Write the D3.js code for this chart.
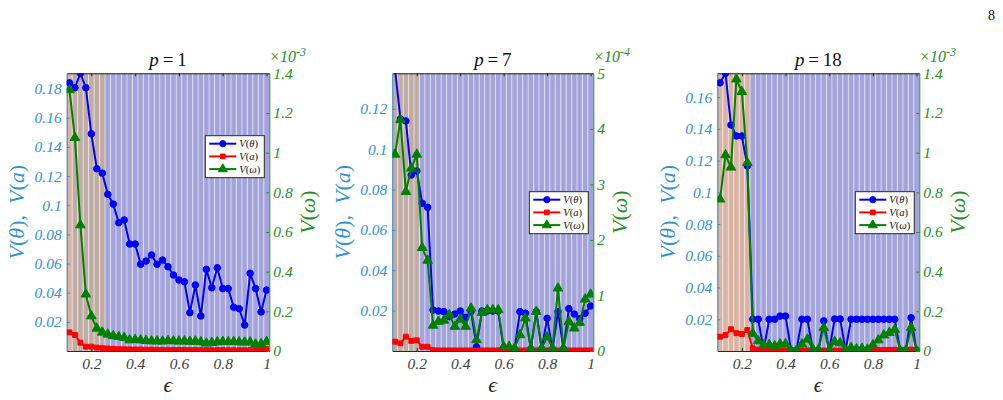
<!DOCTYPE html>
<html>
<head>
<meta charset="utf-8">
<script src="https://cdn.jsdelivr.net/npm/d3@7"></script>
<style>
body { margin: 0; background: #fff; }
svg text { font-family: "Liberation Serif", "Times New Roman", serif; }
</style>
</head>
<body>
<svg id="fig" width="1003" height="400"></svg>
<script>
// coupling strength grid (x values)
const epsValues = [0.1, 0.125, 0.15, 0.175, 0.2, 0.225, 0.25, 0.275, 0.3, 0.325, 0.35, 0.375, 0.4,
    0.425, 0.45, 0.475, 0.5, 0.525, 0.55, 0.575, 0.6, 0.625, 0.65, 0.675, 0.7, 0.725, 0.75, 0.775,
    0.8, 0.825, 0.85, 0.875, 0.9, 0.925, 0.95, 0.975, 1.0];

// p = 1
const thetaP1 = [0.184, 0.1806, 0.1905, 0.1806, 0.149, 0.125, 0.122, 0.1075, 0.1008, 0.088, 0.0899, 0.0734, 0.0734,
    0.0595, 0.0617, 0.0659, 0.0595, 0.0624, 0.0578, 0.0521, 0.0487, 0.0475, 0.0263, 0.0453, 0.024, 0.056, 0.0434, 0.0571,
    0.0428, 0.0428, 0.03, 0.029, 0.0178, 0.0533, 0.0428, 0.0268, 0.0418];
const aP1 = [0.0128, 0.011, 0.0057, 0.003, 0.003, 0.0023, 0.002, 0.0017, 0.0015, 0.0013, 0.0012, 0.0011, 0.001,
    0.001, 0.0009, 0.0009, 0.0008, 0.0008, 0.0008, 0.0007, 0.0007, 0.0007, 0.0006, 0.0007, 0.0006, 0.0006, 0.0006, 0.0006,
    0.0006, 0.0005, 0.0005, 0.0005, 0.0005, 0.0006, 0.0008, 0.001, 0.0012];
const omegaP1 = [1.316, 1.075, 0.635, 0.286, 0.176, 0.114, 0.094, 0.084, 0.076, 0.072, 0.067, 0.055, 0.057,
    0.055, 0.052, 0.05, 0.05, 0.049, 0.052, 0.05, 0.049, 0.05, 0.048, 0.049, 0.046, 0.039, 0.042, 0.045,
    0.047, 0.046, 0.047, 0.045, 0.044, 0.045, 0.034, 0.036, 0.047]; // x 1e-3
const regimeP1 = ["S", "T", "T", "T", "T", "T", "T", "L", "L", "L", "L", "L", "L", "L", "L", "L", "L", "L", "L",
    "L", "L", "L", "L", "L", "L", "L", "L", "L", "L", "L", "L", "L", "L", "L", "L", "L", "L"];

// p = 7
const thetaP7 = [0.1395, 0.115, 0.114, 0.0872, 0.0892, 0.0732, 0.0712, 0.0203, 0.0198, 0.0195, 0.017, 0.0183, 0.0198,
    0.0167, 0.0195, 0.0021, 0.0198, 0.0198, 0.0198, 0.0198, 0.001, 0.001, 0.001, 0.0195, 0.0187, 0.001, 0.0195, 0.001,
    0.0162, 0.001, 0.0195, 0.001, 0.021, 0.0183, 0.016, 0.0187, 0.0223];
const aP7 = [0.0046, 0.0038, 0.0071, 0.005, 0.0053, 0.0021, 0.0021, 0.0004, 0.0003, 0.0003, 0.0003, 0.0003, 0.0003,
    0.0003, 0.0003, 0.0003, 0.0003, 0.0003, 0.0003, 0.0003, 0.0003, 0.0003, 0.0003, 0.0003, 0.0003, 0.0003, 0.0003, 0.0003,
    0.0003, 0.0003, 0.0003, 0.0003, 0.0003, 0.0003, 0.0003, 0.0003, 0.0003];
const omegaP7 = [3.54, 4.16, 2.87, 3.29, 3.54, 1.86, 1.63, 0.46, 0.53, 0.55, 0.65, 0.44, 0.57,
    0.44, 0.77, 0.2, 0.69, 0.74, 0.74, 0.74, 0.08, 0.08, 0.05, 0.29, 0.59, 0.05, 0.71, 0.05,
    0.25, 0.05, 1.13, 0.05, 0.53, 0.41, 0.51, 0.93, 1.02]; // x 1e-4
const regimeP7 = ["T", "T", "T", "T", "T", "L", "L", "L", "L", "L", "L", "L", "L", "L", "L", "L", "L", "L", "L",
    "L", "L", "L", "L", "L", "L", "L", "L", "L", "L", "L", "L", "L", "L", "L", "L", "L", "L"];

// p = 18
const thetaP18 = [0.169, 0.175, 0.1424, 0.1355, 0.1355, 0.1166, 0.02, 0.02, 0.0006, 0.02, 0.02, 0.022, 0.022,
    0.0005, 0.0005, 0.02, 0.02, 0.0005, 0.0003, 0.019, 0.0003, 0.0202, 0.0202, 0.0003, 0.02, 0.02, 0.02, 0.02,
    0.02, 0.02, 0.02, 0.02, 0.02, 0.0003, 0.0003, 0.021, 0.0003];
const aP18 = [0.009, 0.0101, 0.0137, 0.0112, 0.0107, 0.0132, 0.0017, 0.0008, 0.0006, 0.0005, 0.0005, 0.0005, 0.0004,
    0.0004, 0.0004, 0.0004, 0.0004, 0.0003, 0.0003, 0.0003, 0.0003, 0.0003, 0.0003, 0.0003, 0.0003, 0.0004, 0.0004, 0.0005,
    0.0005, 0.0006, 0.0006, 0.0007, 0.0008, 0.0008, 0.0006, 0.0009, 0.0006];
const omegaP18 = [0.765, 0.988, 0.926, 1.37, 1.307, 0.949, 0.088, 0.05, 0.03, 0.032, 0.025, 0.035, 0.036,
    0.002, 0.002, 0.035, 0.059, 0.01, 0.005, 0.117, 0.005, 0.047, 0.04, 0.005, 0.017, 0.01, 0.012, 0.008,
    0.03, 0.055, 0.08, 0.092, 0.108, 0.002, 0.002, 0.117, 0.002]; // x 1e-3
const regimeP18 = ["S", "S", "S", "S", "S", "S", "L", "L", "L", "L", "L", "L", "L", "L", "L", "L", "L", "L", "L",
    "L", "L", "L", "L", "L", "L", "L", "L", "L", "L", "L", "L", "L", "L", "L", "L", "L", "L"];

// ticks
const xTicks = [0.2, 0.4, 0.6, 0.8, 1];
const leftTicksP1 = [0.02, 0.04, 0.06, 0.08, 0.1, 0.12, 0.14, 0.16, 0.18];
const leftTicksP7 = [0.02, 0.04, 0.06, 0.08, 0.1, 0.12];
const leftTicksP18 = [0.02, 0.04, 0.06, 0.08, 0.1, 0.12, 0.14, 0.16];
const rightTicks3 = [0, 0.2, 0.4, 0.6, 0.8, 1, 1.2, 1.4];
const rightTicks4 = [0, 1, 2, 3, 4, 5];

const legendLabels = ["\u03b8", "a", "\u03c9"];

// colours
const blueTxt = "#3092d0", greenTxt = "#22901f", axisDark = "#262626";
const regimeColor = {S: "#d9b3a3", T: "#bfaca5", L: "#a4a4dc"};

const svg = d3.select("#fig");
const plotTop = 73.3, plotBottom = 351, h = plotBottom - plotTop;

const panels = [
    {p: "1", theta: thetaP1, a: aP1, omega: omegaP1, regime: regimeP1, left: 66.7, width: 202.6,
     leftMax: 0.1905, leftTicks: leftTicksP1, rightMax: 1.4, rightTicks: rightTicks3, exp: "-3",
     legendTop: 135.7, rlabelOff: 46},
    {p: "7", theta: thetaP7, a: aP7, omega: omegaP7, regime: regimeP7, left: 392.3, width: 201,
     leftMax: 0.1376, leftTicks: leftTicksP7, rightMax: 5, rightTicks: rightTicks4, exp: "-4",
     legendTop: 191.7, rlabelOff: 34},
    {p: "18", theta: thetaP18, a: aP18, omega: omegaP18, regime: regimeP18, left: 717.3, width: 202,
     leftMax: 0.175, leftTicks: leftTicksP18, rightMax: 1.4, rightTicks: rightTicks3, exp: "-3",
     legendTop: 191.7, rlabelOff: 46}
];

const fmt = d3.format("~g");

panels.forEach((P, pi) => {
    let w = P.width;
    let g = svg.append("g").attr("transform", `translate(${P.left},${plotTop})`);

    let x = d3.scaleLinear().domain([0.0875, 1.0125]).range([0, w]);
    let yL = d3.scaleLinear().domain([0, P.leftMax]).range([h, 0]);
    let yR = d3.scaleLinear().domain([0, P.rightMax]).range([h, 0]);

    let clipId = "clip" + pi;
    g.append("clipPath").attr("id", clipId)
        .append("rect").attr("x", 0).attr("y", 0).attr("width", w).attr("height", h);

    // background regime bars
    g.selectAll("rect.bg").data(epsValues).enter().append("rect")
        .attr("x", d => x(d - 0.0125))
        .attr("width", d => x(d + 0.0125) - x(d - 0.0125))
        .attr("y", 0).attr("height", h)
        .attr("fill", (d, i) => regimeColor[P.regime[i]]);

    // white bar edges
    g.selectAll("line.sep").data(epsValues.slice(0, -1)).enter().append("line")
        .attr("x1", d => x(d + 0.0125)).attr("x2", d => x(d + 0.0125))
        .attr("y1", 0).attr("y2", h)
        .attr("stroke", "rgba(255,255,255,0.5)").attr("stroke-width", 1.1);

    // axes
    let xb = g.append("g").attr("transform", `translate(0,${h})`)
        .call(d3.axisBottom(x).tickValues(xTicks).tickFormat(fmt).tickSizeInner(-3).tickSizeOuter(0).tickPadding(7));
    xb.select(".domain").attr("stroke", axisDark);
    xb.selectAll("line").attr("stroke", axisDark);
    xb.selectAll("text").attr("fill", "#404040").attr("font-size", 15.5).attr("font-style", "italic");

    let xt = g.append("g")
        .call(d3.axisTop(x).tickValues(xTicks).tickFormat("").tickSizeInner(-3).tickSizeOuter(0));
    xt.select(".domain").attr("stroke", axisDark);
    xt.selectAll("line").attr("stroke", axisDark);

    let yl = g.append("g")
        .call(d3.axisLeft(yL).tickValues(P.leftTicks).tickFormat(fmt).tickSizeInner(-3).tickSizeOuter(0).tickPadding(5));
    yl.select(".domain").attr("stroke", blueTxt);
    yl.selectAll("line").attr("stroke", blueTxt);
    yl.selectAll("text").attr("fill", blueTxt).attr("font-size", 15.5).attr("font-style", "italic");

    let yr = g.append("g").attr("transform", `translate(${w},0)`)
        .call(d3.axisRight(yR).tickValues(P.rightTicks).tickFormat(fmt).tickSizeInner(-3).tickSizeOuter(0).tickPadding(4));
    yr.select(".domain").attr("stroke", greenTxt);
    yr.selectAll("line").attr("stroke", greenTxt);
    yr.selectAll("text").attr("fill", greenTxt).attr("font-size", 15.5).attr("font-style", "italic");

    // series
    let plot = g.append("g").attr("clip-path", `url(#${clipId})`);
    let series = [
        {vals: P.theta, y: yL, color: "#0000ff", shape: "circle"},
        {vals: P.a, y: yL, color: "#ff0000", shape: "square"},
        {vals: P.omega, y: yR, color: "#008000", shape: "triangle"}
    ];
    series.forEach(s => {
        let line = d3.line().x((d, i) => x(epsValues[i])).y(d => s.y(d));
        plot.append("path").datum(s.vals)
            .attr("d", line).attr("fill", "none")
            .attr("stroke", s.color).attr("stroke-width", 2);
        let sym = s.shape === "circle" ? d3.symbol(d3.symbolCircle, 34)
            : s.shape === "square" ? d3.symbol(d3.symbolSquare, 24)
            : d3.symbol(d3.symbolTriangle, 40);
        plot.selectAll(null).data(s.vals).enter().append("path")
            .attr("d", sym)
            .attr("transform", (d, i) => `translate(${x(epsValues[i])},${s.y(d)})`)
            .attr("fill", s.color).attr("stroke", s.color).attr("stroke-width", 1);
    });

    // title
    let t = g.append("text").attr("x", w / 2).attr("y", -7)
        .attr("text-anchor", "middle").attr("font-size", 19).attr("fill", "#111");
    t.append("tspan").attr("font-style", "italic").text("p");
    t.append("tspan").text("\u2009=\u2009" + P.p);

    // axis labels
    let ll = g.append("text")
        .attr("transform", `translate(-42.5,${h / 2}) rotate(-90)`)
        .attr("text-anchor", "middle").attr("font-size", 22).attr("fill", blueTxt);
    ll.append("tspan").attr("font-style", "italic").text("V");
    ll.append("tspan").text("(");
    ll.append("tspan").attr("font-style", "italic").text("\u03b8");
    ll.append("tspan").text("),\u2002");
    ll.append("tspan").attr("font-style", "italic").text("V");
    ll.append("tspan").text("(");
    ll.append("tspan").attr("font-style", "italic").text("a");
    ll.append("tspan").text(")");

    let rl = g.append("text")
        .attr("transform", `translate(${w + P.rlabelOff},${h / 2}) rotate(-90)`)
        .attr("text-anchor", "middle").attr("font-size", 22).attr("fill", greenTxt);
    rl.append("tspan").attr("font-style", "italic").text("V");
    rl.append("tspan").text("(");
    rl.append("tspan").attr("font-style", "italic").text("\u03c9");
    rl.append("tspan").text(")");

    g.append("text").attr("x", w / 2).attr("y", h + 41)
        .attr("text-anchor", "middle").attr("font-size", 22).attr("font-style", "italic")
        .attr("fill", "#262626").text("\u03f5");

    // exponent
    let ex = g.append("text").attr("x", w).attr("y", -11)
        .attr("font-size", 16).attr("font-style", "italic").attr("fill", greenTxt);
    ex.append("tspan").text("\u00d710");
    ex.append("tspan").attr("dy", -6).attr("font-size", 12).text(P.exp);

    // legend
    let lw = 59, lh = 42;
    let lg = g.append("g").attr("transform", `translate(${w - 5 - lw},${P.legendTop - plotTop})`);
    lg.append("rect").attr("width", lw).attr("height", lh)
        .attr("fill", "#fff").attr("stroke", "#262626").attr("stroke-width", 1);
    series.forEach((s, i) => {
        let row = lg.append("g").attr("transform", `translate(0,${8 + i * 12.7})`);
        row.append("line").attr("x1", 4).attr("x2", 31).attr("y1", 0).attr("y2", 0)
            .attr("stroke", s.color).attr("stroke-width", 2);
        let sym = s.shape === "circle" ? d3.symbol(d3.symbolCircle, 30)
            : s.shape === "square" ? d3.symbol(d3.symbolSquare, 22)
            : d3.symbol(d3.symbolTriangle, 36);
        row.append("path").attr("d", sym).attr("transform", "translate(17.5,0)")
            .attr("fill", s.color).attr("stroke", s.color);
        let tx = row.append("text").attr("x", 34).attr("y", 3.5).attr("font-size", 10.5).attr("fill", "#111");
        tx.append("tspan").attr("font-style", "italic").text("V");
        tx.append("tspan").text("(");
        tx.append("tspan").attr("font-style", "italic").text(legendLabels[i]);
        tx.append("tspan").text(")");
    });
});

// page number
svg.append("text").attr("x", 995).attr("y", 20).attr("text-anchor", "end")
    .attr("font-size", 14).attr("fill", "#111").text("8");
</script>
</body>
</html>
